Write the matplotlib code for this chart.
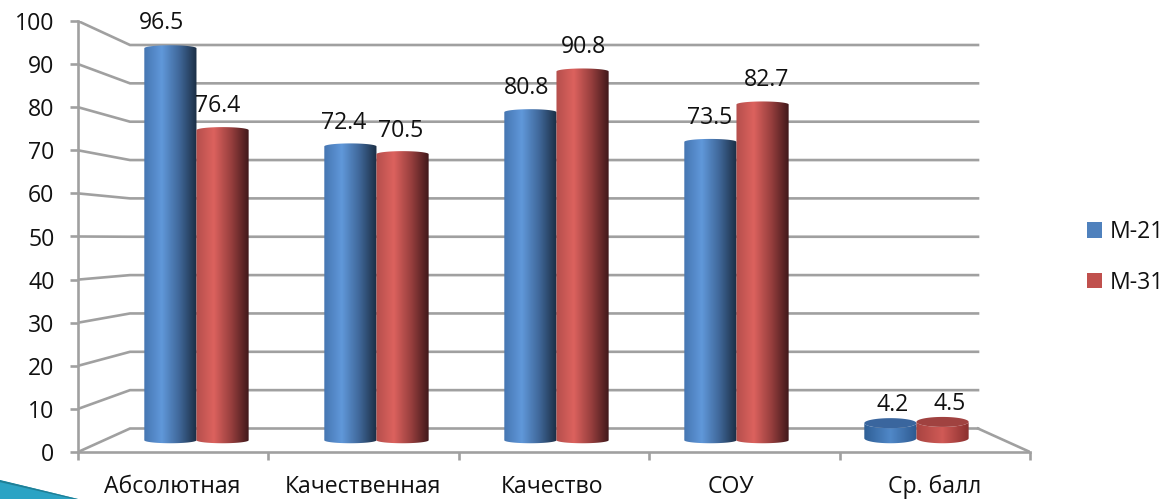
import numpy as np
import matplotlib
matplotlib.use("Agg")
import matplotlib.pyplot as plt
from matplotlib.colors import LinearSegmentedColormap as LSC
from matplotlib.patches import Polygon, Patch
from matplotlib.transforms import ScaledTranslation

categories = ["Абсолютная", "Качественная", "Качество", "СОУ", "Ср. балл"]
m21 = [96.5, 72.4, 80.8, 73.5, 4.2]
m31 = [76.4, 70.5, 90.8, 82.7, 4.5]
y_ticks = list(range(0, 101, 10))
series_names = ["М-21", "М-31"]

plt.rcParams["font.family"] = ["Open Sans", "DejaVu Sans"]
W, H = 1170, 499
fig = plt.figure(figsize=(W / 100, H / 100), dpi=100, facecolor="white")
L, R, B, T = 78, 1030, 452, 21
ax = fig.add_axes([L / W, 1 - B / H, (R - L) / W, (B - T) / H])
GRID = "#a0a0a0"
TXT = "#111111"
FS = 16.6

# perspective: f=0 front plane, f=1 back wall
def px(x, f):
    return 0.5 * 5 + (x - 2.5) * (1 - f * 104 / 952)
def py(y, f):
    return (f * 23.5 + y * (4.31 - f * 0.475)) / 4.31

# walls
for v in y_ticks:
    ax.plot([px(0, 0), px(0, 1), px(5, 1)], [py(v, 0), py(v, 1), py(v, 1)],
            color=GRID, lw=1.9, solid_joinstyle="miter", zorder=1)
ax.plot([px(5, 1), px(5, 0)], [py(0, 1), py(0, 0)], color=GRID, lw=1.9, zorder=1)

blue = LSC.from_list("b", ["#4676b2", "#6098da", "#40689a", "#1b2e44"])
red = LSC.from_list("r", ["#b54f4c", "#dc625e", "#983f3e", "#40181a"])
blue_s = LSC.from_list("bs", ["#2f5f96", "#5088c8", "#2e5a90"])
red_s = LSC.from_list("rs", ["#a84441", "#d05a56", "#8a2f2e"])
grad = np.linspace(0, 1, 128).reshape(1, -1)

def cylinder(i, off, v, cmap, cmap_s, cap):
    f = 0.5
    c = px(i + 0.5, f) + 0.013
    w = 0.274
    x0 = c + off * w - w / 2
    x1 = x0 + w
    low = v < 10
    ybot = py(0, f) + (2 / 4.31 if low else 0)
    ytop = py(v, f) - (0 if low else 1 / 4.31)
    rb = (5 if low else 3) / 4.31
    rt = (5 if low else 3) / 4.31
    t = np.linspace(0, np.pi, 40)
    xs = (x0 + x1) / 2 + w / 2 * np.cos(t)
    top = ytop + rt * np.sin(t) if not low else ytop - rt * np.sin(t)
    bottom = ybot - rb * np.sin(t)
    pts = np.r_[np.c_[xs, top], np.c_[xs[::-1], bottom[::-1]]]
    z = 3 + i * 0.01 + (0.005 if off > 0 else 0)
    im = ax.imshow(grad, cmap=cmap_s if low else cmap, aspect="auto",
                   extent=[x0, x1, ybot - rb - 1, ytop + rt + 1], zorder=z,
                   interpolation="bilinear")
    poly = Polygon(pts, closed=True, transform=ax.transData, fc="none", ec="none")
    ax.add_patch(poly)
    im.set_clip_path(poly)
    if low:
        cap_pts = np.r_[np.c_[xs, ytop + rt * np.sin(t)], np.c_[xs[::-1], ytop - rt * np.sin(t[::-1])]]
        ax.add_patch(Polygon(cap_pts, closed=True, fc=cap, ec="none", zorder=z + 0.001))

for i in range(len(categories)):
    cylinder(i, -0.5, m21[i], blue, blue_s, "#3a669e")
    cylinder(i, 0.5, m31[i], red, red_s, "#a04240")

# value labels
for i in range(len(categories)):
    for vals, dx in ((m21, -27), (m31, 30)):
        ax.annotate(f"{vals[i]}", (px(i + 0.5, 0.36), py(vals[i], 0.36)),
                    xytext=(dx * 0.72, 21 * 0.72), textcoords="offset points",
                    ha="center", va="center", fontsize=FS, color=TXT,
                    zorder=10, annotation_clip=False)

ax.set_xlim(0, 5)
ax.set_ylim(0, 100)
ax.set_yticks(y_ticks)
ax.set_xticks(range(6))
ax.set_xticklabels([""] * 6)
ax.set_xticks(np.arange(len(categories)) + 0.5, categories, minor=True)
ax.tick_params(axis="y", length=6, width=1.9, color=GRID, labelsize=FS, labelcolor=TXT, pad=11)
ax.tick_params(axis="x", which="major", length=6, width=1.9, color=GRID)
ax.tick_params(axis="x", which="minor", length=0, labelsize=FS, labelcolor=TXT, pad=16.5)
for side in ("top", "right"):
    ax.spines[side].set_visible(False)
for side in ("left", "bottom"):
    ax.spines[side].set_color(GRID)
    ax.spines[side].set_linewidth(1.9)
lab_shift = [-1, -1, -2, -13, 0]
for lab, d in zip(ax.get_xticklabels(minor=True), lab_shift):
    lab.set_transform(lab.get_transform() + ScaledTranslation(d / 100, 0, fig.dpi_scale_trans))

handles = [Patch(fc="#4f81bd", ec="none"), Patch(fc="#c0504d", ec="none")]
leg = fig.legend(handles, series_names, loc="upper left", bbox_to_anchor=(1087 / W, 1 - 220 / H),
                 frameon=False, fontsize=FS, labelcolor=TXT, handlelength=0.65, handleheight=0.65,
                 handletextpad=0.35, labelspacing=1.15, borderaxespad=0, borderpad=0)

# slide decoration, bottom left corner
deco = fig.add_axes([0, 0, 1, 1], zorder=-1)
deco.set_xlim(0, W); deco.set_ylim(H, 0); deco.axis("off")
tri = Polygon([[0, 480], [78, 499], [0, 499]], closed=True, fc="#2ba3c4", ec="none")
deco.add_patch(tri)
edge, = deco.plot([0, 78], [481, 499], color="#1f7f96", lw=1.6)
edge.set_clip_path(tri)

fig.savefig("out.png", dpi=100, facecolor="white")
